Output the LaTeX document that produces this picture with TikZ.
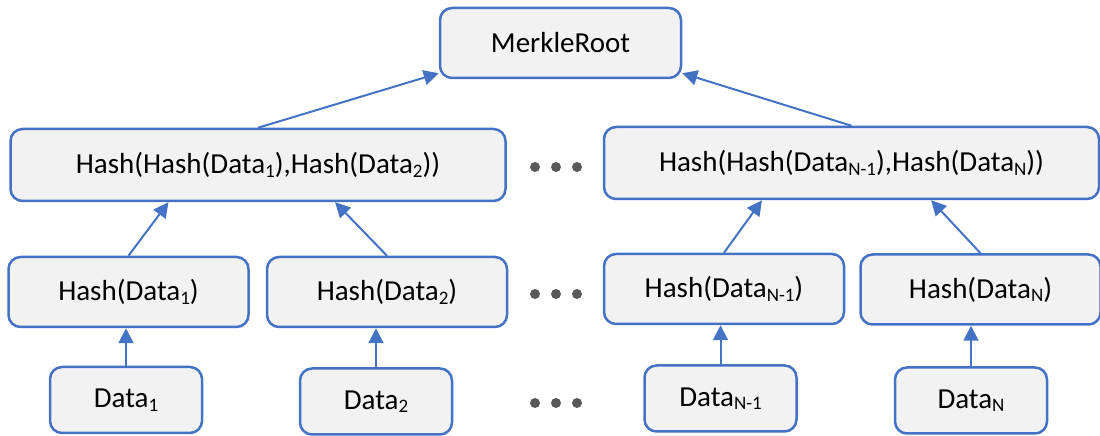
\documentclass[tikz,border=0pt]{standalone}
\usepackage{fontspec}
\setmainfont{Carlito}
\usetikzlibrary{positioning, arrows.meta, calc}
\definecolor{edgeblue}{HTML}{4472C4}
\definecolor{boxgray}{HTML}{F2F2F2}
\definecolor{dotgray}{HTML}{595959}
\newcommand{\sbs}[1]{\raisebox{-0.12em}{\fontsize{19}{19}\selectfont #1}}
\tikzset{
  blk/.style   = {draw=edgeblue, fill=boxgray, rounded corners=12pt,
                  line width=2.5pt, inner sep=0pt, font=\fontsize{29}{35}\selectfont},
  rootbox/.style = {blk, minimum width=241pt, minimum height=70pt},
  pairbox/.style = {blk, minimum width=495pt, minimum height=72pt},
  hashbox/.style = {blk, minimum width=240pt, minimum height=70pt},
  databox/.style = {blk, minimum width=152pt, minimum height=66pt},
  ar/.style    = {-{Triangle[length=15pt,width=15pt]}, draw=edgeblue, line width=2pt},
  gap/.style   = {fill=dotgray},
}

\begin{document}
\begin{tikzpicture}[x=1pt, y=1pt]
  \useasboundingbox (0,0) rectangle (1100,436);

  \node[rootbox] (root) at (560.5,393) {MerkleRoot};

  \node[pairbox] (ha) at (258,271)   {Hash(Hash(Data\sbs{1}),Hash(Data\sbs{2}))};
  \node[pairbox] (hb) at (851.5,273) {Hash(Hash(Data\sbs{N-1}),Hash(Data\sbs{N}))};

  \node[hashbox] (h1) at (128.5,144) {Hash(Data\sbs{1})};
  \node[hashbox] (h2) at (387,144)   {Hash(Data\sbs{2})};
  \node[hashbox] (hm) at (724,147)   {Hash(Data\sbs{N-1})};
  \node[hashbox] (hn) at (980.5,146.5) {Hash(Data\sbs{N})};

  \node[databox] (d1) at (126,36)    {Data\sbs{1}};
  \node[databox] (d2) at (376,34.5)  {Data\sbs{2}};
  \node[databox] (dm) at (720.5,37.5) {Data\sbs{N-1}};
  \node[databox] (dn) at (971,35.5)  {Data\sbs{N}};

  % leaves up to their hashes
  \foreach \lo/\hi in {d1/h1, d2/h2, dm/hm, dn/hn}
    \draw[ar] (\lo.north) -- (\lo.north |- \hi.south);

  % pairs of hashes
  \draw[ar] (h1.north) -- ($(ha.south west)!0.32!(ha.south east)$);
  \draw[ar] (h2.north) -- ($(ha.south west)!0.655!(ha.south east)$);
  \draw[ar] (hm.north) -- ($(hb.south west)!0.32!(hb.south east)$);
  \draw[ar] (hn.north) -- ($(hb.south west)!0.66!(hb.south east)$);

  % root
  \draw[ar] (ha.north) -- ($(root.south west)+(0,6)$);
  \draw[ar] (hb.north) -- ($(root.south east)+(0,6)$);

  % skipped leaves
  \foreach \y in {269,142,33}
    \foreach \x in {535,556,577}
      \fill[gap] (\x,\y) circle (5pt);
\end{tikzpicture}
\end{document}
